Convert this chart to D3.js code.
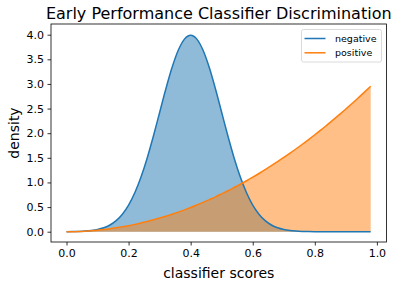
<!DOCTYPE html>
<html>
<head>
<meta charset="utf-8">
<script src="https://cdn.jsdelivr.net/npm/d3@7"></script>
<style>
  body { margin: 0; background: #fff; }
  svg { display: block; font-family: "DejaVu Sans", sans-serif; }
</style>
</head>
<body>
<svg id="chart" width="399" height="287"></svg>
<script>
// classifier scores sampled every 0.02
const scores = [0.00, 0.02, 0.04, 0.06, 0.08, 0.10, 0.12, 0.14, 0.16, 0.18,
                0.20, 0.22, 0.24, 0.26, 0.28, 0.30, 0.32, 0.34, 0.36, 0.38,
                0.40, 0.42, 0.44, 0.46, 0.48, 0.50, 0.52, 0.54, 0.56, 0.58,
                0.60, 0.62, 0.64, 0.66, 0.68, 0.70, 0.72, 0.74, 0.76, 0.78,
                0.80, 0.82, 0.84, 0.86, 0.88, 0.90, 0.92, 0.94, 0.96, 0.98];

const negative = [0.001, 0.003, 0.006, 0.012, 0.024, 0.044, 0.079, 0.136, 0.224, 0.355,
                  0.540, 0.790, 1.109, 1.497, 1.942, 2.420, 2.897, 3.332, 3.683, 3.910,
                  3.989, 3.910, 3.683, 3.332, 2.897, 2.420, 1.942, 1.497, 1.109, 0.790,
                  0.540, 0.355, 0.224, 0.136, 0.079, 0.044, 0.024, 0.012, 0.006, 0.003,
                  0.001, 0.000, 0.000, 0.000, 0.000, 0.000, 0.000, 0.000, 0.000, 0.000];

const positive = [0.000, 0.001, 0.005, 0.011, 0.020, 0.031, 0.044, 0.060, 0.079, 0.100,
                  0.123, 0.149, 0.177, 0.208, 0.241, 0.277, 0.315, 0.355, 0.398, 0.444,
                  0.492, 0.542, 0.595, 0.651, 0.708, 0.769, 0.831, 0.897, 0.964, 1.034,
                  1.107, 1.182, 1.260, 1.340, 1.422, 1.507, 1.594, 1.684, 1.776, 1.871,
                  1.968, 2.067, 2.170, 2.274, 2.381, 2.491, 2.602, 2.717, 2.834, 2.953];

const xTicks = [0.0, 0.2, 0.4, 0.6, 0.8, 1.0];
const yTicks = [0.0, 0.5, 1.0, 1.5, 2.0, 2.5, 3.0, 3.5, 4.0];
const seriesNames = ["negative", "positive"];
const seriesColors = ["#1f77b4", "#ff7f0e"];

const plotLeft = 51, plotRight = 386.5, plotTop = 24, plotBottom = 242;

const svg = d3.select("#chart");

const x = d3.scaleLinear().domain([-0.05, 1.031]).range([plotLeft, plotRight]);
const y = d3.scaleLinear().domain([-0.209, 4.217]).range([plotBottom, plotTop]);

const series = [negative, positive];
const seriesPts = series.map(vals => scores.map((s, j) => [s, vals[j]]));

// fills first
seriesPts.forEach((pts, i) => {
  svg.append("path")
     .datum(pts)
     .attr("fill", seriesColors[i])
     .attr("fill-opacity", 0.5)
     .attr("d", d3.area()
                  .x(d => x(d[0]))
                  .y0(y(0))
                  .y1(d => y(d[1]))
                  .curve(d3.curveMonotoneX));
});

// then the lines over them
seriesPts.forEach((pts, i) => {
  svg.append("path")
     .datum(pts)
     .attr("fill", "none")
     .attr("stroke", seriesColors[i])
     .attr("stroke-width", 1.5)
     .attr("d", d3.line()
                  .x(d => x(d[0]))
                  .y(d => y(d[1]))
                  .curve(d3.curveMonotoneX));
});

// axes
const xAxis = svg.append("g")
                 .attr("transform", "translate(0," + plotBottom + ")")
                 .call(d3.axisBottom(x).tickValues(xTicks).tickFormat(d3.format(".1f"))
                         .tickSizeInner(3.5).tickSizeOuter(0).tickPadding(3.5));
const yAxis = svg.append("g")
                 .attr("transform", "translate(" + plotLeft + ",0)")
                 .call(d3.axisLeft(y).tickValues(yTicks).tickFormat(d3.format(".1f"))
                         .tickSizeInner(3.5).tickSizeOuter(0).tickPadding(3.5));

[xAxis, yAxis].forEach(g => {
  g.select(".domain").remove();
  g.selectAll(".tick line").attr("stroke", "#000").attr("stroke-width", 0.8);
  g.selectAll(".tick text")
   .attr("fill", "#000")
   .style("font-family", "DejaVu Sans")
   .style("font-size", "11px");
});

// spines
svg.append("rect")
   .attr("x", plotLeft)
   .attr("y", plotTop)
   .attr("width", plotRight - plotLeft)
   .attr("height", plotBottom - plotTop)
   .attr("fill", "none")
   .attr("stroke", "#000")
   .attr("stroke-width", 0.8);

// title and labels
svg.append("text")
   .attr("x", (plotLeft + plotRight) / 2)
   .attr("y", 19)
   .attr("text-anchor", "middle")
   .style("font-size", "16px")
   .text("Early Performance Classifier Discrimination");

svg.append("text")
   .attr("x", (plotLeft + plotRight) / 2)
   .attr("y", 278)
   .attr("text-anchor", "middle")
   .style("font-size", "14px")
   .text("classifier scores");

svg.append("text")
   .attr("transform", "translate(19," + ((plotTop + plotBottom) / 2) + ") rotate(-90)")
   .attr("text-anchor", "middle")
   .style("font-size", "14px")
   .text("density");

// legend
const legend = svg.append("g");
legend.append("rect")
      .attr("x", 301.5)
      .attr("y", 29.5)
      .attr("width", 80)
      .attr("height", 32.5)
      .attr("rx", 2)
      .attr("fill", "#fff")
      .attr("fill-opacity", 0.8)
      .attr("stroke", "#d0d0d0")
      .attr("stroke-width", 0.8);

seriesNames.forEach((name, i) => {
  const ly = 38.5 + i * 14.3;
  legend.append("line")
        .attr("x1", 304.5)
        .attr("x2", 325.5)
        .attr("y1", ly)
        .attr("y2", ly)
        .attr("stroke", seriesColors[i])
        .attr("stroke-width", 1.5);
  legend.append("text")
        .attr("x", 335)
        .attr("y", ly)
        .attr("dy", "0.35em")
        .style("font-size", "9.5px")
        .text(name);
});
</script>
</body>
</html>
